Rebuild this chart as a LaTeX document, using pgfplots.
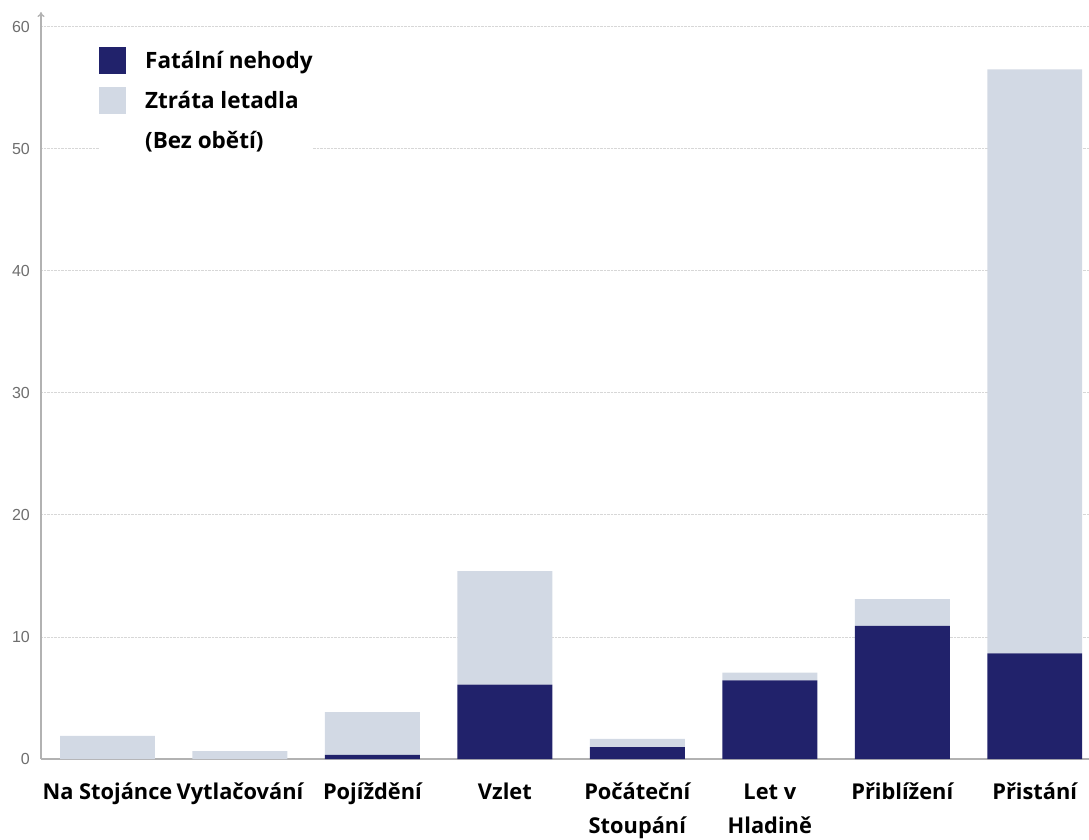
\documentclass[border=0pt]{standalone}
\usepackage{fontspec}
\setmainfont{Open Sans}
\newfontfamily\tickfont{Liberation Sans}
\usepackage{pgfplots}
\pgfplotsset{compat=1.18}
\usetikzlibrary{arrows.meta}
\definecolor{fatal}{RGB}{33,34,107}
\definecolor{loss}{RGB}{210,217,228}
\definecolor{axisgray}{RGB}{178,178,178}
\definecolor{gridgray}{RGB}{215,215,215}
\definecolor{ticktext}{RGB}{110,110,110}
\newcommand\fl{\rule{0pt}{24pt}}
\begin{document}
\begin{tikzpicture}
\useasboundingbox (0,0) rectangle (1089pt,839pt);
\begin{axis}[
  at={(41pt,80pt)}, anchor=south west,
  scale only axis, width=1048pt, height=747pt,
  ybar stacked, bar width=0.717,
  xmin=-0.502, xmax=7.41, ymin=0, ymax=61.2,
  axis x line=bottom, axis y line=left,
  x axis line style={-, draw=axisgray, line width=1.3pt},
  y axis line style={-{To[length=5pt,width=7pt]}, draw=axisgray, line width=1.3pt},
  ytick={0,10,...,60},
  ymajorgrids, grid style={densely dotted, gridgray, line width=0.8pt},
  major tick length=0pt,
  /pgf/number format/assume math mode=true,
  yticklabel style={font=\tickfont\fontsize{16}{16}\selectfont, text=ticktext, inner sep=0pt, xshift=-11pt},
  xtick={0,...,7},
  xticklabels={\fl Na Stojánce, \fl Vytlačování, \fl Pojíždění, \fl Vzlet, {\fl Počáteční\\Stoupání}, {\fl Let v\\Hladině}, \fl Přiblížení, \fl Přistání},
  xticklabel style={font=\bfseries\fontsize{21.8}{34.5}\selectfont, align=center, anchor=north, inner sep=0pt, yshift=-16pt},
  legend style={at={(rel axis cs:0.0553,0.9538)}, anchor=north west, draw=none, fill=white, inner sep=0pt,
    font=\bfseries\fontsize{22.5}{27}\selectfont, row sep=13pt, column sep=19pt,
    nodes={inner sep=0pt, anchor=base west, text height=21.5pt, text depth=5.5pt}},
  legend image code/.code={\fill[#1] (0pt,-5.5pt) rectangle (27pt,21.5pt);},
]
\addplot[fill=fatal, draw=none] coordinates {(0,0) (1,0) (2,0.33) (3,6.1) (4,0.98) (5,6.45) (6,10.9) (7,8.66)};
\addlegendentry{Fatální nehody}
\addplot[fill=loss, draw=none] coordinates {(0,1.9) (1,0.65) (2,3.52) (3,9.3) (4,0.66) (5,0.62) (6,2.2) (7,47.84)};
\addlegendentry{Ztráta letadla}
\addlegendimage{empty legend}
\addlegendentry{(Bez obětí)}
\end{axis}
\end{tikzpicture}
\end{document}
